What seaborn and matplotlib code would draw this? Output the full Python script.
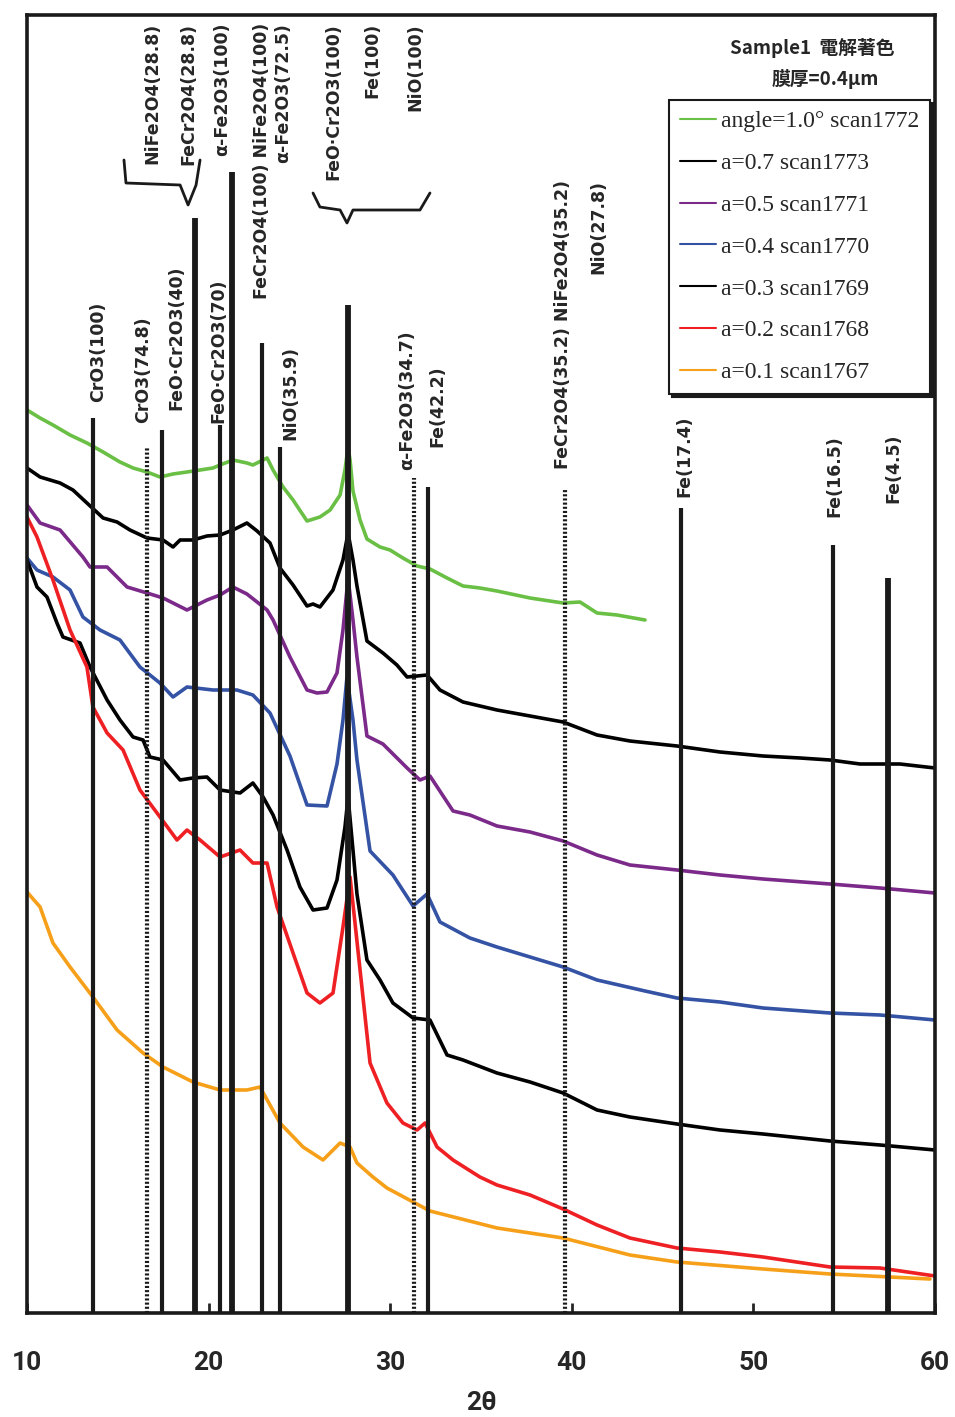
import numpy as np
import pandas as pd
import matplotlib
matplotlib.use('Agg')
import matplotlib.pyplot as plt
import seaborn as sns

sns.set_theme(style='white')
plt.rcParams['font.family'] = ['DejaVu Sans']

# --------------------- scan data (2theta in deg, intensity a.u.) ---------------------
g_x = [10.00, 10.72, 11.43, 12.37, 13.30, 14.19, 15.12, 15.84, 16.61, 17.32, 18.04, 18.81, 19.53, 20.24,
       20.63, 21.34, 22.11, 22.44, 23.22, 23.55, 24.10, 24.65, 25.42, 26.13, 26.69, 27.24, 27.51, 27.68,
       27.79, 27.95, 28.34, 28.72, 29.44, 29.99, 30.70, 31.48, 32.19, 33.13, 34.01, 34.94, 35.88, 37.70,
       39.52, 40.45, 41.39, 42.49, 44.03]
g_y = [903, 895, 888, 878, 870, 861, 851, 845, 841, 836, 839, 841, 843, 845,
       848, 853, 850, 848, 855, 843, 826, 813, 792, 796, 803, 818, 843, 866,
       853, 822, 793, 774, 766, 763, 755, 747, 744, 735, 727, 725, 722, 715,
       710, 711, 700, 698, 693]

k7_x = [10.00, 10.72, 11.82, 12.53, 13.30, 14.19, 14.96, 15.67, 16.61, 17.49, 18.04, 18.43, 19.14, 19.91,
        20.63, 21.34, 22.11, 22.67, 23.38, 23.93, 24.65, 25.42, 25.75, 26.13, 26.85, 27.40, 27.68, 27.95,
        28.17, 28.72, 29.60, 30.37, 30.93, 31.48, 32.03, 32.74, 34.01, 35.88, 37.70, 39.52, 41.39, 43.20,
        45.79, 48.16, 50.53, 52.57, 54.22, 55.87, 58.07, 60.00]
k7_y = [845, 836, 830, 823, 810, 795, 791, 783, 775, 773, 766, 773, 773, 777,
        778, 783, 790, 782, 770, 745, 728, 707, 709, 706, 723, 753, 780, 753,
        727, 672, 660, 648, 636, 637, 638, 623, 611, 603, 597, 591, 578, 572,
        567, 561, 557, 555, 553, 549, 549, 545]

p_x = [10.00, 10.72, 11.82, 13.08, 13.47, 14.41, 15.51, 16.61, 17.49, 18.26, 18.81, 19.91, 20.63, 21.34,
       22.11, 22.67, 23.22, 23.55, 24.48, 25.42, 25.97, 26.52, 27.07, 27.40, 27.68, 27.95, 28.17, 28.72,
       29.60, 30.93, 31.64, 32.19, 33.46, 34.39, 35.88, 37.70, 39.52, 41.39, 43.20, 45.79, 48.16, 50.53,
       54.22, 56.97, 60.00]
p_y = [808, 790, 783, 756, 746, 746, 726, 720, 715, 708, 703, 713, 718, 726,
       719, 711, 703, 693, 656, 623, 620, 621, 640, 683, 735, 693, 656, 577,
       569, 545, 533, 537, 502, 498, 487, 481, 472, 458, 448, 443, 438, 434,
       429, 425, 420]

b_x = [10.00, 10.55, 11.43, 12.37, 13.08, 14.02, 15.12, 16.22, 17.32, 18.04, 18.81, 20.24, 21.56, 22.44,
       23.38, 24.48, 25.42, 26.52, 27.07, 27.40, 27.62, 27.95, 28.17, 28.89, 30.15, 31.26, 32.03, 32.74,
       34.39, 35.88, 37.70, 39.52, 41.39, 44.03, 45.79, 48.16, 50.53, 54.22, 56.97, 60.00]
b_y = [755, 743, 736, 723, 696, 683, 673, 646, 630, 616, 626, 623, 623, 618,
       600, 557, 508, 507, 549, 593, 636, 593, 553, 462, 438, 407, 419, 391,
       375, 366, 356, 346, 333, 322, 315, 311, 305, 300, 298, 293]

k3_x = [10.00, 10.55, 11.10, 11.65, 11.98, 12.92, 13.47, 14.41, 15.12, 15.84, 16.39, 16.77, 17.49, 18.43,
        19.14, 19.91, 20.63, 21.73, 22.44, 23.00, 23.55, 24.32, 25.03, 25.75, 26.52, 27.07, 27.51, 27.68,
        27.95, 28.17, 28.72, 29.44, 30.15, 31.26, 32.19, 33.13, 34.01, 35.88, 37.70, 39.52, 41.39, 43.20,
        45.79, 48.16, 50.53, 54.22, 56.97, 60.00]
k3_y = [753, 726, 716, 690, 676, 670, 646, 613, 593, 576, 573, 556, 553, 533,
        535, 536, 523, 520, 530, 516, 498, 463, 426, 403, 405, 433, 486, 516,
        463, 419, 353, 333, 310, 295, 293, 258, 253, 240, 231, 220, 203, 196,
        189, 183, 179, 172, 168, 163]

r_x = [10.00, 10.55, 11.43, 12.37, 13.30, 13.63, 14.41, 15.29, 16.22, 17.16, 18.26, 18.81, 19.53, 20.63,
       21.73, 22.44, 23.22, 23.77, 24.65, 25.42, 26.13, 26.85, 27.40, 27.79, 28.34, 28.89, 29.82, 30.70,
       31.48, 31.92, 32.58, 33.46, 34.94, 35.88, 37.70, 39.52, 41.39, 43.20, 45.79, 48.16, 50.53, 54.22,
       56.97, 60.00]
r_y = [796, 776, 733, 683, 646, 606, 580, 563, 523, 500, 473, 483, 473, 456,
       463, 450, 450, 406, 360, 320, 310, 320, 386, 436, 343, 250, 210, 190,
       183, 190, 166, 153, 136, 128, 118, 104, 88, 75, 65, 61, 56, 46,
       45, 37]

o_x = [10.00, 10.72, 11.43, 12.37, 13.63, 14.96, 16.39, 17.49, 19.14, 20.63, 22.11, 22.83, 23.93, 25.20,
       26.30, 27.24, 27.79, 28.17, 29.05, 29.82, 32.19, 35.88, 39.52, 43.20, 45.79, 50.53, 54.22, 59.72]
o_y = [421, 406, 370, 346, 316, 283, 260, 246, 231, 223, 223, 226, 190, 166,
       153, 170, 166, 150, 136, 125, 102, 85, 75, 58, 51, 44, 39, 34]

scan_labels = ['angle=1.0° scan1772', 'a=0.7 scan1773', 'a=0.5 scan1771', 'a=0.4 scan1770',
               'a=0.3 scan1769', 'a=0.2 scan1768', 'a=0.1 scan1767']
scan_colors = ['#6abf45', '#000000', '#7b2a8a', '#3553a4', '#000000', '#ee2024', '#f6a01a']

# reference peak positions (2theta) and stick heights
peak_pos = [13.63, 16.61, 17.43, 19.25, 20.63, 21.30, 22.94, 23.93, 27.68, 31.30, 32.10, 39.60, 46.00, 54.40, 57.40]
peak_top = [895, 865, 883, 1095, 888, 1141, 970, 866, 1008, 835, 826, 823, 805, 768, 735]
peak_dotted = [False, True, False, False, False, False, False, False, False, True, False, True, False, False, False]
peak_thick = [False, False, False, True, False, True, False, False, True, False, False, False, False, False, True]

# phase labels: text, 2theta, anchor height, which end is anchored
phase_text = ['CrO3(100)', 'CrO3(74.8)', 'FeO·Cr2O3(40)', 'FeO·Cr2O3(70)', 'FeCr2O4(100) NiFe2O4(100)',
              'α-Fe2O3(72.5)', 'NiO(35.9)', 'NiFe2O4(28.8)', 'FeCr2O4(28.8)', 'α-Fe2O3(100)',
              'FeO·Cr2O3(100)', 'Fe(100)', 'NiO(100)', 'α-Fe2O3(34.7)', 'Fe(42.2)',
              'FeCr2O4(35.2) NiFe2O4(35.2)', 'NiO(27.8)', 'Fe(17.4)', 'Fe(16.5)', 'Fe(4.5)']
phase_x = [13.91, 16.39, 18.20, 20.52, 22.94, 24.10, 24.48, 16.88, 18.87, 20.74,
           26.85, 29.00, 31.37, 30.93, 32.58, 39.52, 41.44, 46.18, 54.44, 57.69]
phase_y = [911, 890, 903, 890, 1290, 1290, 873, 1290, 1290, 1290,
           1290, 1290, 1290, 843, 866, 1133, 1133, 816, 796, 810]
phase_va = ['bottom', 'bottom', 'bottom', 'bottom', 'top', 'top', 'bottom', 'top', 'top', 'top',
            'top', 'top', 'top', 'bottom', 'bottom', 'top', 'top', 'bottom', 'bottom', 'bottom']

# --------------------- long table for seaborn ---------------------
frames = []
for lab, xs, ys in zip(scan_labels, [g_x, k7_x, p_x, b_x, k3_x, r_x, o_x],
                       [g_y, k7_y, p_y, b_y, k3_y, r_y, o_y]):
    frames.append(pd.DataFrame({'two_theta': xs, 'intensity': ys, 'scan': lab}))
df = pd.concat(frames, ignore_index=True)

fig = plt.figure(figsize=(9.55, 14.17), dpi=100)
ax = fig.add_axes([27 / 955, 1 - 1313 / 1417, 908 / 955, 1298 / 1417])

sns.lineplot(data=df, x='two_theta', y='intensity', hue='scan', hue_order=scan_labels,
             palette=scan_colors, estimator=None, sort=False, linewidth=2.6, ax=ax, zorder=2)

for x, top, dot, thick in zip(peak_pos, peak_top, peak_dotted, peak_thick):
    ax.vlines(x, 0, top, colors='k', linewidth=4.2 if thick else 3.0,
              linestyles=(0, (0.5, 0.5)) if dot else 'solid', zorder=3)

for t, x, y, va in zip(phase_text, phase_x, phase_y, phase_va):
    ax.text(x, y, t, rotation=90, ha='center', va=va, fontsize=12.5,
            fontweight='bold', family=['DejaVu Sans'], zorder=4)

# braces grouping labels
ax.plot([15.34, 15.45, 18.43, 18.87, 19.31, 19.53], [1153, 1130, 1128, 1108, 1128, 1153],
        color='k', lw=2.0, zorder=4)
ax.plot([25.75, 26.13, 27.24, 27.62, 27.95, 31.64, 32.19], [1120, 1106, 1103, 1090, 1103, 1103, 1120],
        color='k', lw=2.0, zorder=4)

ax.set_xlim(10, 60)
ax.set_ylim(0, 1298)
ax.set_xticks([10, 20, 30, 40, 50, 60])
ax.set_yticks([])
ax.set_ylabel('')
ax.tick_params(axis='x', direction='in', length=7, width=2, pad=27, labelsize=19, bottom=True)
for lbl in ax.get_xticklabels():
    lbl.set_fontfamily(['Roboto', 'DejaVu Sans'])
    lbl.set_fontweight('bold')
ax.set_xlabel('2θ', fontsize=19, fontweight='bold', family=['Roboto', 'DejaVu Sans'], labelpad=12)
for s in ax.spines.values():
    s.set_linewidth(2.6)
    s.set_color('k')

leg = ax.legend(loc='upper right', bbox_to_anchor=(0.9945, 0.9345), frameon=True, fancybox=False,
                prop={'family': 'Liberation Serif', 'size': 17}, handlelength=1.55, handletextpad=0.2,
                labelspacing=0.86, borderpad=0.45, borderaxespad=0,
                shadow={'color': 'k', 'alpha': 1.0})
leg.get_frame().set_edgecolor('k')
leg.get_frame().set_linewidth(1.5)
for h in leg.legend_handles:
    h.set_linewidth(1.5)

ax.text(0.8645, 0.9746, 'Sample1  電解著色', transform=ax.transAxes, ha='center', va='center',
        fontsize=13.5, fontweight='bold', family=['Noto Sans CJK TC', 'DejaVu Sans'])
ax.text(0.879, 0.951, '膜厚=0.4μm', transform=ax.transAxes, ha='center', va='center',
        fontsize=13.5, fontweight='bold', family=['Noto Sans CJK TC', 'DejaVu Sans'])

fig.savefig('out.png', dpi=100)
